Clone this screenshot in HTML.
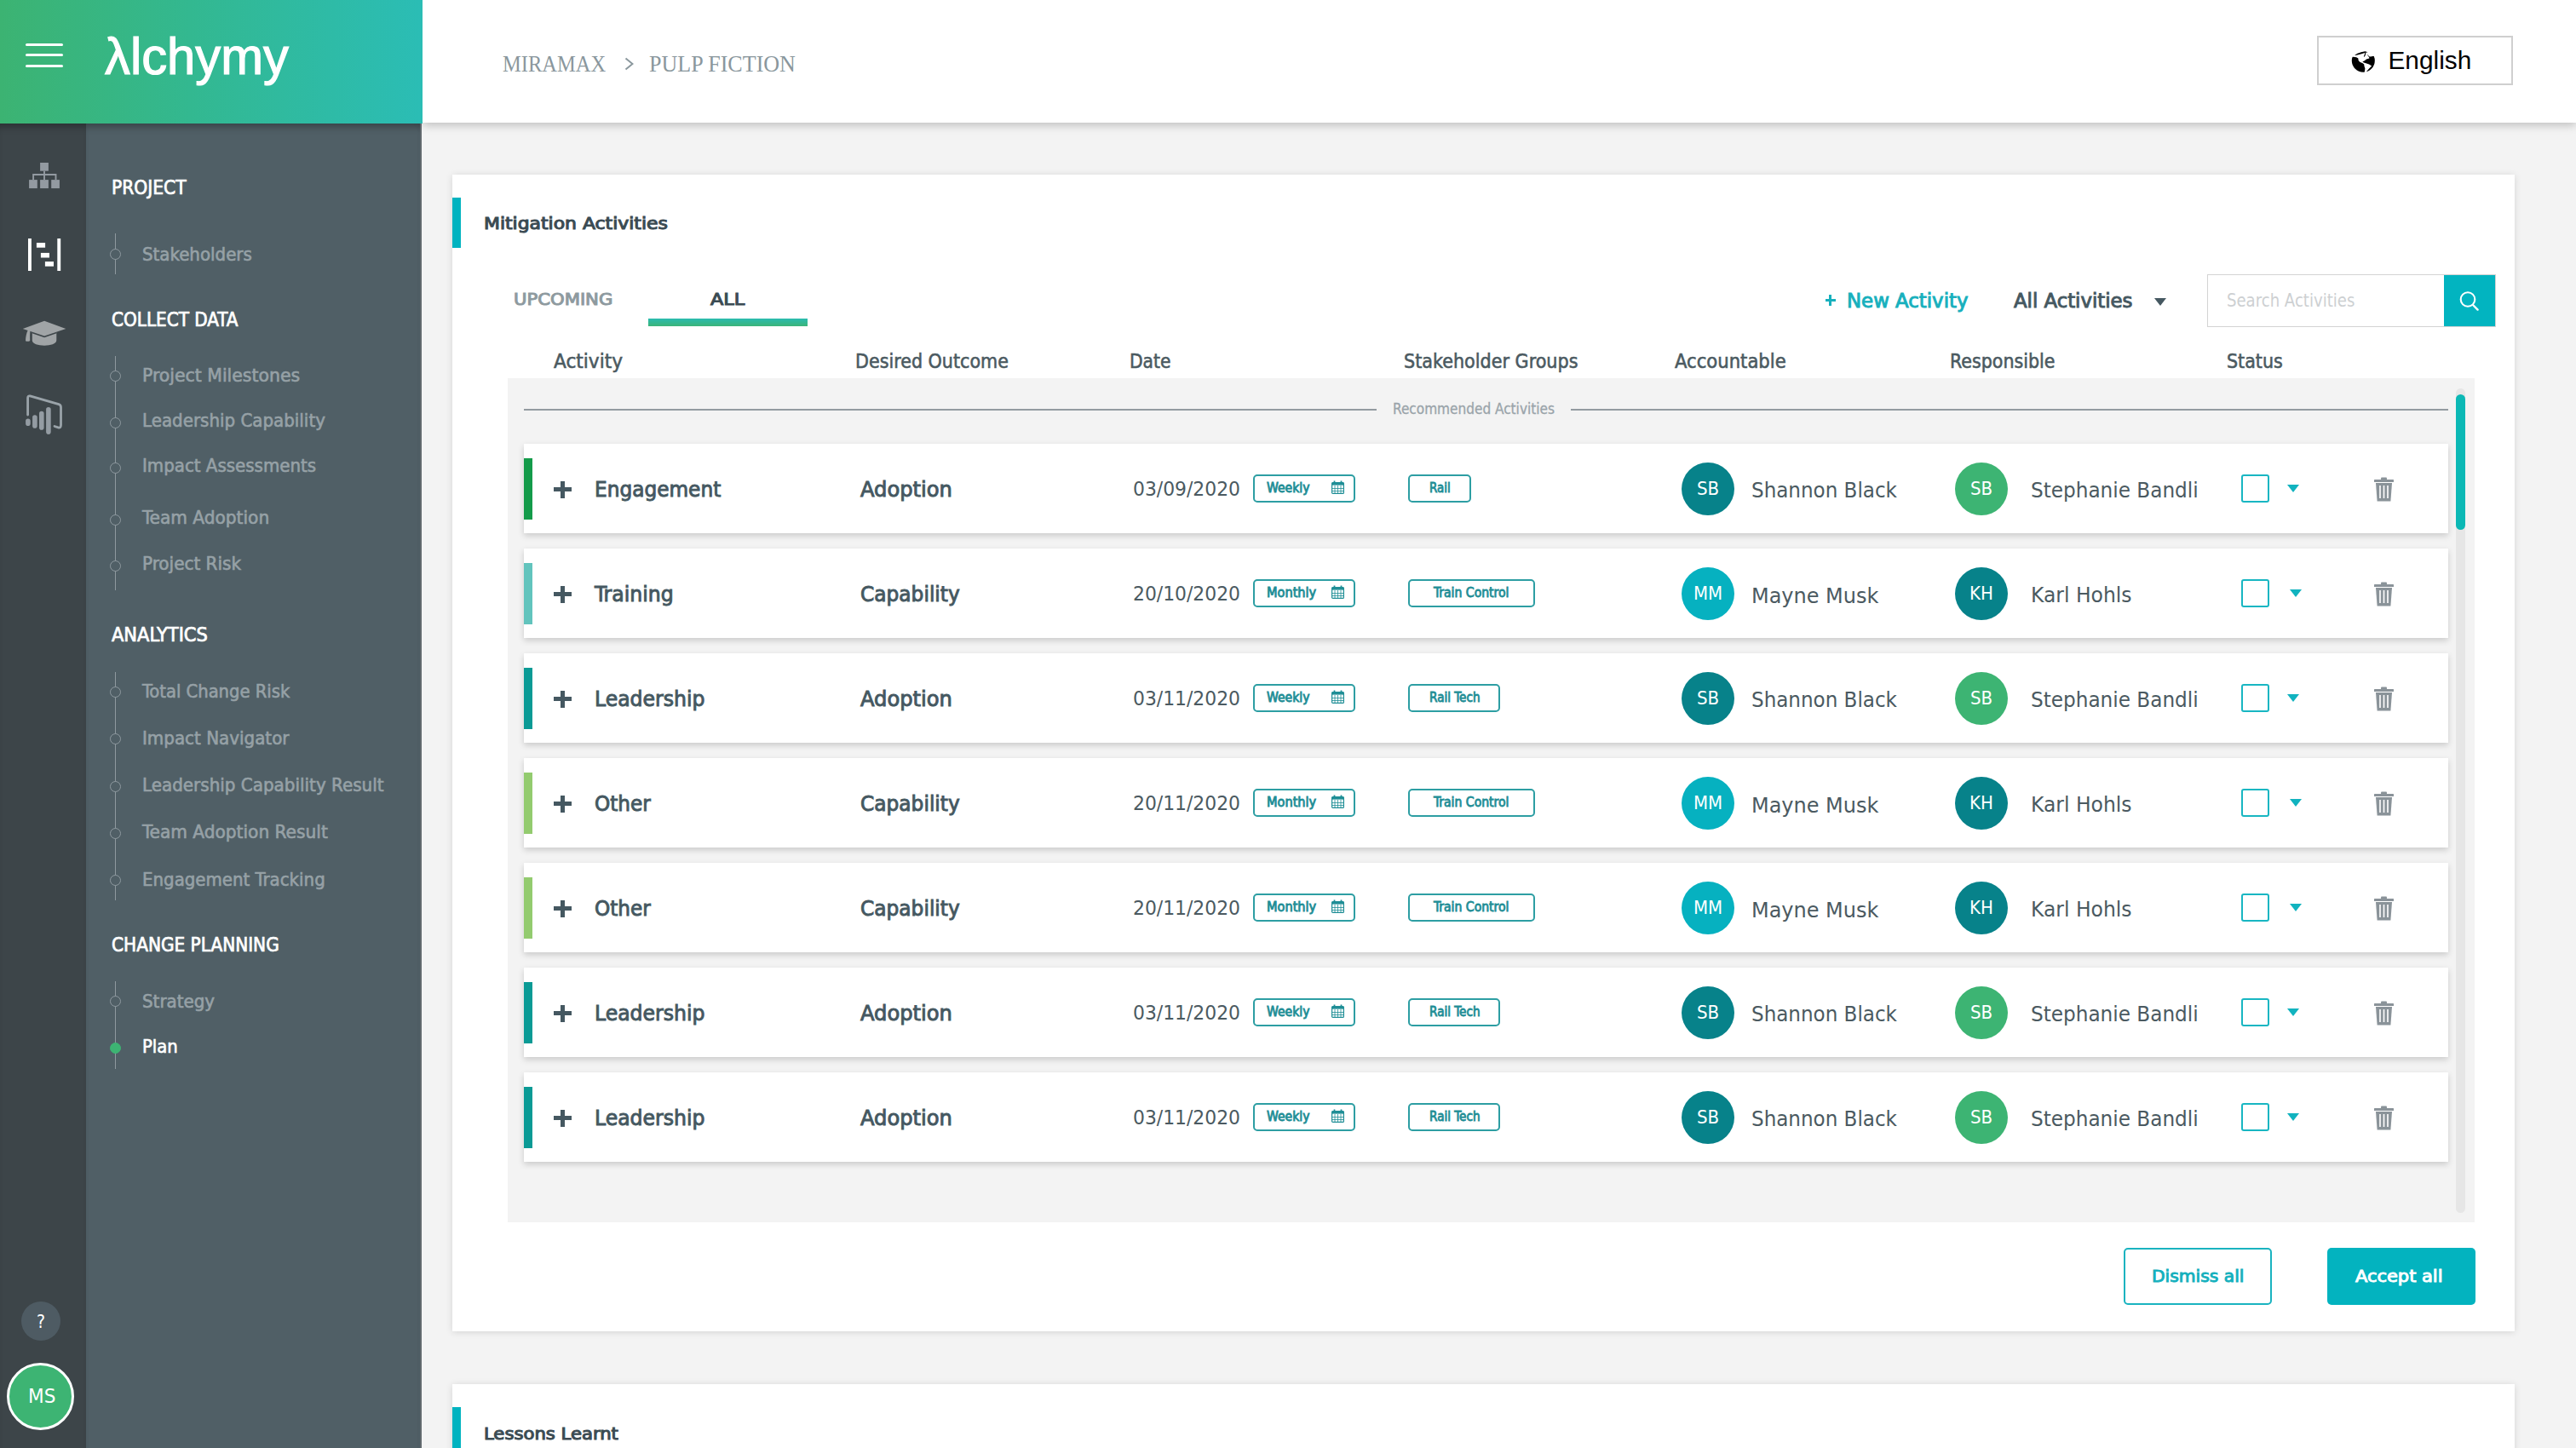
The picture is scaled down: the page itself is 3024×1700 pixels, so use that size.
<!DOCTYPE html>
<html><head><meta charset="utf-8"><title>Alchymy - Plan</title>
<style>
*{box-sizing:border-box;margin:0;padding:0}
html,body{width:3024px;height:1700px;overflow:hidden;background:#f3f3f3;font-family:"Liberation Sans",Arial,sans-serif;position:relative}
.a{position:absolute;white-space:nowrap;line-height:1}
#brand{position:absolute;left:0;top:0;width:496px;height:145px;background:linear-gradient(90deg,#3cb372 0%,#33b890 45%,#2bbdb5 100%);z-index:3}
#topbar{position:absolute;left:496px;top:0;width:2528px;height:144px;background:#fff;box-shadow:0 3px 10px rgba(0,0,0,.22);z-index:2}
#rail{position:absolute;left:0;top:145px;width:101px;height:1555px;background:#3d4549;z-index:1;box-shadow:inset 0 9px 8px -5px rgba(0,0,0,.3)}
#nav{position:absolute;left:101px;top:145px;width:394px;height:1555px;background:#505f66;z-index:1;border-right:2.3px solid #61696e;box-shadow:inset 0 9px 8px -5px rgba(0,0,0,.3)}
.burger{position:absolute;left:30px;width:44px;height:3.4px;border-radius:2px;background:#fff}
.logo{left:121px;top:40px;font-size:64px;color:#fff;font-weight:bold;letter-spacing:-1px}
.sec{left:131px;font-size:23px;color:#fff;font-weight:bold;letter-spacing:.3px}
.item{left:167px;font-size:24px;color:#8f9aa0;font-weight:bold}
.vline{position:absolute;z-index:5;left:134.5px;width:1.5px;background:#8e999f}
.dot{position:absolute;z-index:6;left:129px;width:13px;height:13px;border:1.6px solid #8e999f;border-radius:50%;background:#505f66}
.crumb{font-family:"Liberation Serif",serif;font-size:27px;color:#8a979d;top:62px;letter-spacing:.3px}
#lang{position:absolute;left:2720px;top:42px;width:230px;height:58px;border:2px solid #cfcfcf;background:#fff;z-index:3}
.card{position:absolute;left:531px;width:2421px;background:#fff;box-shadow:0 1px 8px rgba(0,0,0,.13)}
.accent{position:absolute;left:0;width:10px;background:#00b3c0}
.title{font-size:24px;font-weight:bold;color:#3b4b53}
.tab{font-size:24px;font-weight:bold;letter-spacing:.5px}
.th{font-size:23px;color:#4b5a61;top:413px}
#panel{position:absolute;left:596px;top:444px;width:2309px;height:991px;background:#f3f3f3}
.row{position:absolute;left:615px;width:2259px;height:105.5px;background:#fff;box-shadow:0 3px 7px rgba(0,0,0,.17)}
.bar{position:absolute;left:0;top:17px;width:10px;height:72px}
.plus{position:absolute;left:35px;top:44px;width:21px;height:20px}
.plus:before{content:"";position:absolute;left:0;top:7.75px;width:21px;height:4.5px;background:#455861}
.plus:after{content:"";position:absolute;left:8.25px;top:0;width:4.5px;height:20px;background:#455861}
.act{left:83px;top:41px;font-size:26px;color:#455861;font-weight:bold}
.out{left:395px;top:41px;font-size:26px;color:#455861;font-weight:bold}
.date{left:714px;top:42px;font-size:24px;color:#4b5a61}
.pill{position:absolute;top:36.2px;height:33.2px;border:2px solid #2d9ea3;border-radius:5px;font-size:16px;font-weight:bold;color:#1f8e96;text-align:center;line-height:29px;white-space:nowrap}
.freq{left:855.8px;width:120.6px}
.cal{position:absolute;left:90px;top:5.8px}
.grp{left:1038.4px}
.av{position:absolute;top:22px;width:62px;height:62px;border-radius:50%;color:#fff;font-size:22px;text-align:center;line-height:62px;font-family:'DejaVu Sans Condensed','DejaVu Sans',sans-serif}
.nm{top:42px;font-size:26px;color:#4b5a61}
.cb{position:absolute;left:2016px;top:36px;width:33px;height:33px;border:2.4px solid #18b6c2;border-radius:3px}
.tri{position:absolute;top:48px;width:0;height:0;border-left:7.5px solid transparent;border-right:7.5px solid transparent;border-top:9px solid #11b3bf}
.trash{position:absolute;left:2172px;top:39px}
.btn{position:absolute;top:1465px;width:174px;height:67px;border-radius:5px;font-size:24px;font-weight:bold;text-align:center;line-height:63px}

</style></head><body>
<div id="brand">
<div class="burger" style="top:50.5px"></div><div class="burger" style="top:63px"></div><div class="burger" style="top:75.5px"></div>
<div class="a " style="left:122.5px;top:36.0px;font-size:61px;transform:scaleX(0.9805);transform-origin:0 0;color:#fff;-webkit-text-stroke:1.2px #fff">λlchymy</div>
</div>
<div id="topbar"></div>
<div class="a " style="left:590.0px;top:60.5px;font-size:28px;font-family:'Liberation Serif',serif;transform:scaleX(0.875);transform-origin:0 0;color:#8a979d;z-index:4">MIRAMAX</div>
<svg class="a" style="left:733px;top:67px;z-index:4" width="11" height="16" viewBox="0 0 11 16"><path d="M1.5 1.5l8 6.5-8 6.5" fill="none" stroke="#8a979d" stroke-width="2"/></svg>
<div class="a " style="left:762.0px;top:60.5px;font-size:28px;font-family:'Liberation Serif',serif;transform:scaleX(0.93);transform-origin:0 0;color:#8a979d;z-index:4">PULP FICTION</div>
<div id="lang">
<svg style="position:absolute;left:38px;top:15px" width="29" height="27" viewBox="0 0 29 27"><defs><clipPath id="gc"><circle cx="14.3" cy="12.2" r="13.5"/></clipPath></defs><g clip-path="url(#gc)" fill="#000"><path d="M4.3 5.7L7.4 3.8L11.75 2.25L16.4 1.3L19.7 2.25L17 2.8L12.4 4.3L7.4 5.5L4.9 6.1Z"/><path d="M2.27 7.69L6.16 8.16L8.33 9.4L8.64 11.9L10.2 13.75L13.6 15.3L15.2 16.5L15.5 18.7L16.4 21.5L15.8 25.6L15.8 30L-5 30L-5 7.6Z"/><path d="M13.3 13.4L15.8 12.2L18 10.6L21.4 9.4L21.1 8.2L19.8 6.6L18.9 5.05L19.8 5.4L21.1 7.2L22.9 7.5L25.4 7.1L32 6L32 32L19.5 32L18.1 24.9L21.1 21.5L24.2 18.4L21.1 16.5L17.3 15.15L14.9 14.4Z"/><path d="M17 2.4L16.2 5.6L15.3 7.4" fill="none" stroke="#000" stroke-width="1.1"/></g></svg>
<div class="a " style="left:81.5px;top:12.3px;font-size:29.8px;color:#000">English</div>
</div>
<div id="rail"></div><div id="nav"></div>
<div class="a " style="left:131.0px;top:209.0px;font-size:22.4px;font-family:'DejaVu Sans Condensed','DejaVu Sans',sans-serif;transform:scaleX(1.0062);transform-origin:0 0;color:#fff;z-index:5;-webkit-text-stroke:0.7px #fff">PROJECT</div>
<div class="vline" style="top:274px;height:48px"></div>
<div class="dot" style="top:291.5px"></div>
<div class="a " style="left:167.0px;top:288.4px;font-size:22px;font-family:'DejaVu Sans Condensed','DejaVu Sans',sans-serif;transform:scaleX(1.0011);transform-origin:0 0;color:#96a1a6;z-index:5;-webkit-text-stroke:0.6px #96a1a6">Stakeholders</div>
<div class="a " style="left:131.0px;top:364.0px;font-size:22.4px;font-family:'DejaVu Sans Condensed','DejaVu Sans',sans-serif;transform:scaleX(0.9939);transform-origin:0 0;color:#fff;z-index:5;-webkit-text-stroke:0.7px #fff">COLLECT DATA</div>
<div class="vline" style="top:418px;height:275px"></div>
<div class="dot" style="top:434.9px"></div>
<div class="a " style="left:167.0px;top:430.1px;font-size:22px;font-family:'DejaVu Sans Condensed','DejaVu Sans',sans-serif;transform:scaleX(1.0319);transform-origin:0 0;color:#96a1a6;z-index:5;-webkit-text-stroke:0.6px #96a1a6">Project Milestones</div>
<div class="dot" style="top:489.8px"></div>
<div class="a " style="left:167.0px;top:483.4px;font-size:22px;font-family:'DejaVu Sans Condensed','DejaVu Sans',sans-serif;transform:scaleX(1.0032);transform-origin:0 0;color:#96a1a6;z-index:5;-webkit-text-stroke:0.6px #96a1a6">Leadership Capability</div>
<div class="dot" style="top:543.1px"></div>
<div class="a " style="left:167.0px;top:536.4px;font-size:22px;font-family:'DejaVu Sans Condensed','DejaVu Sans',sans-serif;transform:scaleX(1.0016);transform-origin:0 0;color:#96a1a6;z-index:5;-webkit-text-stroke:0.6px #96a1a6">Impact Assessments</div>
<div class="dot" style="top:604.4px"></div>
<div class="a " style="left:167.0px;top:597.4px;font-size:22px;font-family:'DejaVu Sans Condensed','DejaVu Sans',sans-serif;transform:scaleX(1.0183);transform-origin:0 0;color:#96a1a6;z-index:5;-webkit-text-stroke:0.6px #96a1a6">Team Adoption</div>
<div class="dot" style="top:657.6px"></div>
<div class="a " style="left:167.0px;top:650.7px;font-size:22px;font-family:'DejaVu Sans Condensed','DejaVu Sans',sans-serif;transform:scaleX(1.0093);transform-origin:0 0;color:#96a1a6;z-index:5;-webkit-text-stroke:0.6px #96a1a6">Project Risk</div>
<div class="a " style="left:131.0px;top:734.0px;font-size:22.4px;font-family:'DejaVu Sans Condensed','DejaVu Sans',sans-serif;transform:scaleX(1.0424);transform-origin:0 0;color:#fff;z-index:5;-webkit-text-stroke:0.7px #fff">ANALYTICS</div>
<div class="vline" style="top:789px;height:267.5px"></div>
<div class="dot" style="top:805.5px"></div>
<div class="a " style="left:167.0px;top:801.3px;font-size:22px;font-family:'DejaVu Sans Condensed','DejaVu Sans',sans-serif;transform:scaleX(0.989);transform-origin:0 0;color:#96a1a6;z-index:5;-webkit-text-stroke:0.6px #96a1a6">Total Change Risk</div>
<div class="dot" style="top:860.5px"></div>
<div class="a " style="left:167.0px;top:856.2px;font-size:22px;font-family:'DejaVu Sans Condensed','DejaVu Sans',sans-serif;transform:scaleX(1.0054);transform-origin:0 0;color:#96a1a6;z-index:5;-webkit-text-stroke:0.6px #96a1a6">Impact Navigator</div>
<div class="dot" style="top:916.5px"></div>
<div class="a " style="left:167.0px;top:911.4px;font-size:22px;font-family:'DejaVu Sans Condensed','DejaVu Sans',sans-serif;transform:scaleX(1.0069);transform-origin:0 0;color:#96a1a6;z-index:5;-webkit-text-stroke:0.6px #96a1a6">Leadership Capability Result</div>
<div class="dot" style="top:971.5px"></div>
<div class="a " style="left:167.0px;top:966.4px;font-size:22px;font-family:'DejaVu Sans Condensed','DejaVu Sans',sans-serif;transform:scaleX(1.0184);transform-origin:0 0;color:#96a1a6;z-index:5;-webkit-text-stroke:0.6px #96a1a6">Team Adoption Result</div>
<div class="dot" style="top:1026.5px"></div>
<div class="a " style="left:167.0px;top:1021.7px;font-size:22px;font-family:'DejaVu Sans Condensed','DejaVu Sans',sans-serif;transform:scaleX(1.0004);transform-origin:0 0;color:#96a1a6;z-index:5;-webkit-text-stroke:0.6px #96a1a6">Engagement Tracking</div>
<div class="a " style="left:131.0px;top:1098.0px;font-size:22.4px;font-family:'DejaVu Sans Condensed','DejaVu Sans',sans-serif;transform:scaleX(0.9976);transform-origin:0 0;color:#fff;z-index:5;-webkit-text-stroke:0.7px #fff">CHANGE PLANNING</div>
<div class="vline" style="top:1152px;height:103px"></div>
<div class="dot" style="top:1169.1px"></div>
<div class="a " style="left:167.0px;top:1164.8px;font-size:22px;font-family:'DejaVu Sans Condensed','DejaVu Sans',sans-serif;transform:scaleX(1.0035);transform-origin:0 0;color:#96a1a6;z-index:5;-webkit-text-stroke:0.6px #96a1a6">Strategy</div>
<div class="dot" style="top:1224.0px;background:#3db473;border-color:#3db473"></div>
<div class="a " style="left:167.0px;top:1218.1px;font-size:22px;font-family:'DejaVu Sans Condensed','DejaVu Sans',sans-serif;transform:scaleX(0.9927);transform-origin:0 0;color:#fff;z-index:5;-webkit-text-stroke:0.6px #fff">Plan</div>
<svg class="a" style="left:34px;top:191px;z-index:5" width="36" height="31" viewBox="0 0 36 31" fill="#939aa1"><rect x="13.1" y="0" width="9.8" height="9.7"/><rect x="0.1" y="20.1" width="9.7" height="10"/><rect x="13.1" y="20.1" width="9.8" height="10"/><rect x="26.2" y="20.1" width="9.7" height="10"/><path d="M18 9.7V20.1M5.1 20.1V14h26.4v6.1" fill="none" stroke="#939aa1" stroke-width="1.9"/></svg>
<svg class="a" style="left:33px;top:280px;z-index:5" width="39" height="38" viewBox="0 0 39 38" fill="#fff"><rect x="0" y="0" width="3.9" height="38"/><rect x="34.3" y="0" width="3.9" height="38"/><rect x="9.9" y="5" width="10.2" height="5.7"/><rect x="14.9" y="16.9" width="10.1" height="5.6"/><rect x="19.9" y="27.1" width="10.1" height="5.6"/></svg>
<svg class="a" style="left:26px;top:376px;z-index:5" width="52" height="31" viewBox="0 0 52 31"><path d="M11.8 14.2L26.1 19.6L40.3 14.2V23.5C40.3 27.6 33 29.7 26.1 29.7C19 29.7 11.8 27.6 11.8 23.5Z" fill="#a0a4a6"/><path d="M6.8 11.6L9.4 12.2C9.1 16 9.1 20 9.2 24C8 25.1 5.4 25.1 4 24.2C4.1 19.8 5 15 6.8 11.6Z" fill="#a0a4a6"/><path d="M11.8 14.6L26.1 19.4L40.3 14.6" fill="none" stroke="#3d4549" stroke-width="1.6"/><path d="M26.1 0.7L51.3 10.1L26.1 18.4L0.8 10.1Z" fill="#a0a4a6"/></svg>
<svg class="a" style="left:28px;top:460px;z-index:5" width="47" height="51" viewBox="0 0 47 51" fill="none" stroke-linecap="round"><path d="M4.6 27.1V7.3Q4.6 4.3 7.3 4.9L41 14.7Q43.5 15.5 43.5 18.2V39Q43.5 42.8 40.3 41.9L36 40.5" stroke="#9aa3a9" stroke-width="2.8" stroke-linejoin="round"/><path d="M4.9 34.3V37.2M12.9 30.1V39.9M20.8 25.6V41.9M28.9 20.8V47.1" stroke="#949ca3" stroke-width="5.6"/></svg>
<div class="a" style="left:24.5px;top:1527.5px;width:46px;height:46px;border-radius:50%;background:#4e5b63;z-index:5"></div>
<div class="a " style="left:43.0px;top:1542.2px;font-size:21px;font-family:'DejaVu Sans Condensed','DejaVu Sans',sans-serif;color:#fff;z-index:6">?</div>
<div class="a" style="left:8px;top:1599.7px;width:79px;height:79px;border-radius:50%;background:#3db473;border:3.5px solid #fff;z-index:5"></div>
<div class="a " style="left:32.5px;top:1627.5px;font-size:22.6px;font-family:'DejaVu Sans Condensed','DejaVu Sans',sans-serif;transform:scaleX(1.0638);transform-origin:0 0;color:#fff;z-index:6">MS</div>
<div class="card" style="top:205px;height:1358px"><div class="accent" style="top:27px;height:59px"></div></div>
<div class="a " style="left:568.0px;top:253.0px;font-size:19.9px;font-family:'DejaVu Sans Condensed','DejaVu Sans',sans-serif;transform:scaleX(1.2248);transform-origin:0 0;color:#3b4b53;-webkit-text-stroke:1px #3b4b53">Mitigation Activities</div>
<div class="a " style="left:603.0px;top:341.1px;font-size:20.2px;font-family:'DejaVu Sans Condensed','DejaVu Sans',sans-serif;transform:scaleX(1.1643);transform-origin:0 0;color:#8e9a9f;-webkit-text-stroke:1px #8e9a9f">UPCOMING</div>
<div class="a " style="left:834.0px;top:341.1px;font-size:20.2px;font-family:'DejaVu Sans Condensed','DejaVu Sans',sans-serif;transform:scaleX(1.2337);transform-origin:0 0;color:#3b4b53;-webkit-text-stroke:1px #3b4b53">ALL</div>
<div class="a" style="left:760.5px;top:374px;width:187px;height:8.5px;background:linear-gradient(180deg,#2abcb0,#3cb478)"></div>
<div class="a" style="left:2142.5px;top:351px;width:12.5px;height:3.2px;background:#17b0bd"></div><div class="a" style="left:2147.2px;top:346.3px;width:3.2px;height:12.5px;background:#17b0bd"></div>
<div class="a " style="left:2168.0px;top:342.0px;font-size:23.6px;font-family:'DejaVu Sans Condensed','DejaVu Sans',sans-serif;transform:scaleX(1.0763);transform-origin:0 0;color:#17b0bd;-webkit-text-stroke:0.9px #17b0bd">New Activity</div>
<div class="a " style="left:2364.0px;top:342.0px;font-size:23.6px;font-family:'DejaVu Sans Condensed','DejaVu Sans',sans-serif;transform:scaleX(1.0742);transform-origin:0 0;color:#455861;-webkit-text-stroke:0.9px #455861">All Activities</div>
<div class="a" style="left:2529px;top:350px;width:0;height:0;border-left:7px solid transparent;border-right:7px solid transparent;border-top:9px solid #455861"></div>
<div class="a" style="left:2591px;top:322px;width:339px;height:61.5px;border:1.5px solid #d3d3d3;background:#fff"></div>
<div class="a " style="left:2614.0px;top:342.6px;font-size:20.6px;font-family:'DejaVu Sans Condensed','DejaVu Sans',sans-serif;transform:scaleX(0.9765);transform-origin:0 0;color:#cdd0d2">Search Activities</div>
<div class="a" style="left:2869px;top:323.2px;width:59.6px;height:60.2px;background:#02b4c0"></div>
<svg class="a" style="left:2886px;top:340px" width="26" height="26" viewBox="0 0 26 26"><circle cx="11" cy="11.5" r="8.3" fill="none" stroke="#fff" stroke-width="2.1"/><path d="M17 18l5.6 5.6" stroke="#fff" stroke-width="2.4" stroke-linecap="round"/></svg>
<div class="a " style="left:650.0px;top:412.3px;font-size:23.3px;font-family:'DejaVu Sans Condensed','DejaVu Sans',sans-serif;transform:scaleX(1.0341);transform-origin:0 0;color:#4b5a61;-webkit-text-stroke:0.55px #4b5a61">Activity</div>
<div class="a " style="left:1004.0px;top:412.3px;font-size:23.3px;font-family:'DejaVu Sans Condensed','DejaVu Sans',sans-serif;transform:scaleX(0.9867);transform-origin:0 0;color:#4b5a61;-webkit-text-stroke:0.55px #4b5a61">Desired Outcome</div>
<div class="a " style="left:1326.0px;top:412.3px;font-size:23.3px;font-family:'DejaVu Sans Condensed','DejaVu Sans',sans-serif;transform:scaleX(0.9679);transform-origin:0 0;color:#4b5a61;-webkit-text-stroke:0.55px #4b5a61">Date</div>
<div class="a " style="left:1647.5px;top:412.3px;font-size:23.3px;font-family:'DejaVu Sans Condensed','DejaVu Sans',sans-serif;transform:scaleX(0.9894);transform-origin:0 0;color:#4b5a61;-webkit-text-stroke:0.55px #4b5a61">Stakeholder Groups</div>
<div class="a " style="left:1966.0px;top:412.3px;font-size:23.3px;font-family:'DejaVu Sans Condensed','DejaVu Sans',sans-serif;transform:scaleX(1.0095);transform-origin:0 0;color:#4b5a61;-webkit-text-stroke:0.55px #4b5a61">Accountable</div>
<div class="a " style="left:2289.0px;top:412.3px;font-size:23.3px;font-family:'DejaVu Sans Condensed','DejaVu Sans',sans-serif;transform:scaleX(0.9837);transform-origin:0 0;color:#4b5a61;-webkit-text-stroke:0.55px #4b5a61">Responsible</div>
<div class="a " style="left:2613.5px;top:412.3px;font-size:23.3px;font-family:'DejaVu Sans Condensed','DejaVu Sans',sans-serif;transform:scaleX(0.9851);transform-origin:0 0;color:#4b5a61;-webkit-text-stroke:0.55px #4b5a61">Status</div>
<div id="panel"></div>
<div class="a" style="left:615px;top:480px;width:1001px;height:2px;background:#939ba0"></div>
<div class="a" style="left:1844px;top:480px;width:1030px;height:2px;background:#939ba0"></div>
<div class="a " style="left:1635.0px;top:471.7px;font-size:17.1px;font-family:'DejaVu Sans Condensed','DejaVu Sans',sans-serif;transform:scaleX(0.9974);transform-origin:0 0;color:#9aa4aa;-webkit-text-stroke:0.3px #9aa4aa">Recommended Activities</div>
<div class="a" style="left:2883px;top:456px;width:11px;height:968px;border-radius:6px;background:#e6e6e6"></div>
<div class="a" style="left:2883px;top:463px;width:11px;height:159px;border-radius:6px;background:#0bb8b5"></div>
<div class="row" style="top:520.5px">
<div class="bar" style="background:#149b4a"></div><div class="plus"></div>
<div class="a " style="left:83.0px;top:41.8px;font-size:25.4px;font-family:'DejaVu Sans Condensed','DejaVu Sans',sans-serif;transform:scaleX(1.0173);transform-origin:0 0;color:#455861;-webkit-text-stroke:0.9px #455861">Engagement</div>
<div class="a " style="left:395.0px;top:41.8px;font-size:25.4px;font-family:'DejaVu Sans Condensed','DejaVu Sans',sans-serif;transform:scaleX(1.0594);transform-origin:0 0;color:#455861;-webkit-text-stroke:0.9px #455861">Adoption</div>
<div class="a " style="left:714.5px;top:42.0px;font-size:23.6px;font-family:'DejaVu Sans Condensed','DejaVu Sans',sans-serif;transform:scaleX(1.0298);transform-origin:0 0;color:#4b5a61">03/09/2020</div>
<div class="pill freq"><div class="a " style="left:14.2px;top:6.9px;font-size:15px;font-family:'DejaVu Sans Condensed','DejaVu Sans',sans-serif;transform:scaleX(1.0365);transform-origin:0 0;font-weight:normal;-webkit-text-stroke:0.8px #1f8e96">Weekly</div>
<svg class="cal" width="15" height="16" viewBox="0 0 15 16"><rect x="0.6" y="2.6" width="13.8" height="12.8" rx="1" fill="none" stroke="#1f8e96" stroke-width="1.2"/><rect x="0.6" y="2.6" width="13.8" height="3" fill="#1f8e96"/><path d="M3.5 0.5v3M11.5 0.5v3" stroke="#1f8e96" stroke-width="1.8"/><path d="M4 6v9M7.5 6v9M11 6v9M1 9.5h13M1 12.5h13" stroke="#1f8e96" stroke-width="0.8"/></svg></div><div class="pill grp" style="width:73.5px"><div class="a " style="left:22.4px;top:6.9px;font-size:15px;font-family:'DejaVu Sans Condensed','DejaVu Sans',sans-serif;transform:scaleX(0.9953);transform-origin:0 0;font-weight:normal;-webkit-text-stroke:0.8px #1f8e96">Rail</div>
</div>
<div class="av" style="left:1359px;background:#07828a">SB</div><div class="a " style="left:1441.0px;top:42.0px;font-size:25.4px;font-family:'DejaVu Sans Condensed','DejaVu Sans',sans-serif;transform:scaleX(1.0087);transform-origin:0 0;color:#4b5a61">Shannon Black</div>
<div class="av" style="left:1680px;background:#3db473">SB</div><div class="a " style="left:1769.0px;top:42.0px;font-size:25.4px;font-family:'DejaVu Sans Condensed','DejaVu Sans',sans-serif;transform:scaleX(1.0136);transform-origin:0 0;color:#4b5a61">Stephanie Bandli</div>
<div class="cb"></div><div class="tri" style="left:2069.5px"></div><svg class="trash" width="23" height="29" viewBox="0 0 23 29"><rect x="0" y="3" width="23" height="3" rx="0.5" fill="#8a9399"/><rect x="8" y="0.5" width="7" height="3" rx="1" fill="#8a9399"/><path d="M2 7h19l-1.6 21.5H3.6z" fill="#8a9399"/><path d="M7 10v15M11.5 10v15M16 10v15" stroke="#fff" stroke-width="1.6"/></svg>
</div>
<div class="row" style="top:643.5px">
<div class="bar" style="background:#62c4bd"></div><div class="plus"></div>
<div class="a " style="left:83.0px;top:41.8px;font-size:25.4px;font-family:'DejaVu Sans Condensed','DejaVu Sans',sans-serif;transform:scaleX(1.0335);transform-origin:0 0;color:#455861;-webkit-text-stroke:0.9px #455861">Training</div>
<div class="a " style="left:395.0px;top:41.8px;font-size:25.4px;font-family:'DejaVu Sans Condensed','DejaVu Sans',sans-serif;transform:scaleX(1.02);transform-origin:0 0;color:#455861;-webkit-text-stroke:0.9px #455861">Capability</div>
<div class="a " style="left:714.5px;top:42.0px;font-size:23.6px;font-family:'DejaVu Sans Condensed','DejaVu Sans',sans-serif;transform:scaleX(1.0298);transform-origin:0 0;color:#4b5a61">20/10/2020</div>
<div class="pill freq"><div class="a " style="left:14.2px;top:6.9px;font-size:15px;font-family:'DejaVu Sans Condensed','DejaVu Sans',sans-serif;transform:scaleX(1.0771);transform-origin:0 0;font-weight:normal;-webkit-text-stroke:0.8px #1f8e96">Monthly</div>
<svg class="cal" width="15" height="16" viewBox="0 0 15 16"><rect x="0.6" y="2.6" width="13.8" height="12.8" rx="1" fill="none" stroke="#1f8e96" stroke-width="1.2"/><rect x="0.6" y="2.6" width="13.8" height="3" fill="#1f8e96"/><path d="M3.5 0.5v3M11.5 0.5v3" stroke="#1f8e96" stroke-width="1.8"/><path d="M4 6v9M7.5 6v9M11 6v9M1 9.5h13M1 12.5h13" stroke="#1f8e96" stroke-width="0.8"/></svg></div><div class="pill grp" style="width:148.5px"><div class="a " style="left:28.0px;top:6.9px;font-size:15px;font-family:'DejaVu Sans Condensed','DejaVu Sans',sans-serif;transform:scaleX(1.039);transform-origin:0 0;font-weight:normal;-webkit-text-stroke:0.8px #1f8e96">Train Control</div>
</div>
<div class="av" style="left:1359px;background:#06b1c0">MM</div><div class="a " style="left:1441.0px;top:43.5px;font-size:25.4px;font-family:'DejaVu Sans Condensed','DejaVu Sans',sans-serif;transform:scaleX(1.0492);transform-origin:0 0;color:#4b5a61">Mayne Musk</div>
<div class="av" style="left:1680px;background:#07828a">KH</div><div class="a " style="left:1769.0px;top:42.0px;font-size:25.4px;font-family:'DejaVu Sans Condensed','DejaVu Sans',sans-serif;transform:scaleX(1.0273);transform-origin:0 0;color:#4b5a61">Karl Hohls</div>
<div class="cb"></div><div class="tri" style="left:2073px"></div><svg class="trash" width="23" height="29" viewBox="0 0 23 29"><rect x="0" y="3" width="23" height="3" rx="0.5" fill="#8a9399"/><rect x="8" y="0.5" width="7" height="3" rx="1" fill="#8a9399"/><path d="M2 7h19l-1.6 21.5H3.6z" fill="#8a9399"/><path d="M7 10v15M11.5 10v15M16 10v15" stroke="#fff" stroke-width="1.6"/></svg>
</div>
<div class="row" style="top:766.5px">
<div class="bar" style="background:#0a9a95"></div><div class="plus"></div>
<div class="a " style="left:83.0px;top:41.8px;font-size:25.4px;font-family:'DejaVu Sans Condensed','DejaVu Sans',sans-serif;transform:scaleX(1.0321);transform-origin:0 0;color:#455861;-webkit-text-stroke:0.9px #455861">Leadership</div>
<div class="a " style="left:395.0px;top:41.8px;font-size:25.4px;font-family:'DejaVu Sans Condensed','DejaVu Sans',sans-serif;transform:scaleX(1.0594);transform-origin:0 0;color:#455861;-webkit-text-stroke:0.9px #455861">Adoption</div>
<div class="a " style="left:714.5px;top:42.0px;font-size:23.6px;font-family:'DejaVu Sans Condensed','DejaVu Sans',sans-serif;transform:scaleX(1.0298);transform-origin:0 0;color:#4b5a61">03/11/2020</div>
<div class="pill freq"><div class="a " style="left:14.2px;top:6.9px;font-size:15px;font-family:'DejaVu Sans Condensed','DejaVu Sans',sans-serif;transform:scaleX(1.0365);transform-origin:0 0;font-weight:normal;-webkit-text-stroke:0.8px #1f8e96">Weekly</div>
<svg class="cal" width="15" height="16" viewBox="0 0 15 16"><rect x="0.6" y="2.6" width="13.8" height="12.8" rx="1" fill="none" stroke="#1f8e96" stroke-width="1.2"/><rect x="0.6" y="2.6" width="13.8" height="3" fill="#1f8e96"/><path d="M3.5 0.5v3M11.5 0.5v3" stroke="#1f8e96" stroke-width="1.8"/><path d="M4 6v9M7.5 6v9M11 6v9M1 9.5h13M1 12.5h13" stroke="#1f8e96" stroke-width="0.8"/></svg></div><div class="pill grp" style="width:108px"><div class="a " style="left:22.2px;top:6.9px;font-size:15px;font-family:'DejaVu Sans Condensed','DejaVu Sans',sans-serif;transform:scaleX(1.0089);transform-origin:0 0;font-weight:normal;-webkit-text-stroke:0.8px #1f8e96">Rail Tech</div>
</div>
<div class="av" style="left:1359px;background:#07828a">SB</div><div class="a " style="left:1441.0px;top:42.0px;font-size:25.4px;font-family:'DejaVu Sans Condensed','DejaVu Sans',sans-serif;transform:scaleX(1.0087);transform-origin:0 0;color:#4b5a61">Shannon Black</div>
<div class="av" style="left:1680px;background:#3db473">SB</div><div class="a " style="left:1769.0px;top:42.0px;font-size:25.4px;font-family:'DejaVu Sans Condensed','DejaVu Sans',sans-serif;transform:scaleX(1.0136);transform-origin:0 0;color:#4b5a61">Stephanie Bandli</div>
<div class="cb"></div><div class="tri" style="left:2069.5px"></div><svg class="trash" width="23" height="29" viewBox="0 0 23 29"><rect x="0" y="3" width="23" height="3" rx="0.5" fill="#8a9399"/><rect x="8" y="0.5" width="7" height="3" rx="1" fill="#8a9399"/><path d="M2 7h19l-1.6 21.5H3.6z" fill="#8a9399"/><path d="M7 10v15M11.5 10v15M16 10v15" stroke="#fff" stroke-width="1.6"/></svg>
</div>
<div class="row" style="top:889.5px">
<div class="bar" style="background:#93cb6f"></div><div class="plus"></div>
<div class="a " style="left:83.0px;top:41.8px;font-size:25.4px;font-family:'DejaVu Sans Condensed','DejaVu Sans',sans-serif;transform:scaleX(1.0142);transform-origin:0 0;color:#455861;-webkit-text-stroke:0.9px #455861">Other</div>
<div class="a " style="left:395.0px;top:41.8px;font-size:25.4px;font-family:'DejaVu Sans Condensed','DejaVu Sans',sans-serif;transform:scaleX(1.02);transform-origin:0 0;color:#455861;-webkit-text-stroke:0.9px #455861">Capability</div>
<div class="a " style="left:714.5px;top:42.0px;font-size:23.6px;font-family:'DejaVu Sans Condensed','DejaVu Sans',sans-serif;transform:scaleX(1.0298);transform-origin:0 0;color:#4b5a61">20/11/2020</div>
<div class="pill freq"><div class="a " style="left:14.2px;top:6.9px;font-size:15px;font-family:'DejaVu Sans Condensed','DejaVu Sans',sans-serif;transform:scaleX(1.0771);transform-origin:0 0;font-weight:normal;-webkit-text-stroke:0.8px #1f8e96">Monthly</div>
<svg class="cal" width="15" height="16" viewBox="0 0 15 16"><rect x="0.6" y="2.6" width="13.8" height="12.8" rx="1" fill="none" stroke="#1f8e96" stroke-width="1.2"/><rect x="0.6" y="2.6" width="13.8" height="3" fill="#1f8e96"/><path d="M3.5 0.5v3M11.5 0.5v3" stroke="#1f8e96" stroke-width="1.8"/><path d="M4 6v9M7.5 6v9M11 6v9M1 9.5h13M1 12.5h13" stroke="#1f8e96" stroke-width="0.8"/></svg></div><div class="pill grp" style="width:148.5px"><div class="a " style="left:28.0px;top:6.9px;font-size:15px;font-family:'DejaVu Sans Condensed','DejaVu Sans',sans-serif;transform:scaleX(1.039);transform-origin:0 0;font-weight:normal;-webkit-text-stroke:0.8px #1f8e96">Train Control</div>
</div>
<div class="av" style="left:1359px;background:#06b1c0">MM</div><div class="a " style="left:1441.0px;top:43.5px;font-size:25.4px;font-family:'DejaVu Sans Condensed','DejaVu Sans',sans-serif;transform:scaleX(1.0492);transform-origin:0 0;color:#4b5a61">Mayne Musk</div>
<div class="av" style="left:1680px;background:#07828a">KH</div><div class="a " style="left:1769.0px;top:42.0px;font-size:25.4px;font-family:'DejaVu Sans Condensed','DejaVu Sans',sans-serif;transform:scaleX(1.0273);transform-origin:0 0;color:#4b5a61">Karl Hohls</div>
<div class="cb"></div><div class="tri" style="left:2073px"></div><svg class="trash" width="23" height="29" viewBox="0 0 23 29"><rect x="0" y="3" width="23" height="3" rx="0.5" fill="#8a9399"/><rect x="8" y="0.5" width="7" height="3" rx="1" fill="#8a9399"/><path d="M2 7h19l-1.6 21.5H3.6z" fill="#8a9399"/><path d="M7 10v15M11.5 10v15M16 10v15" stroke="#fff" stroke-width="1.6"/></svg>
</div>
<div class="row" style="top:1012.5px">
<div class="bar" style="background:#93cb6f"></div><div class="plus"></div>
<div class="a " style="left:83.0px;top:41.8px;font-size:25.4px;font-family:'DejaVu Sans Condensed','DejaVu Sans',sans-serif;transform:scaleX(1.0142);transform-origin:0 0;color:#455861;-webkit-text-stroke:0.9px #455861">Other</div>
<div class="a " style="left:395.0px;top:41.8px;font-size:25.4px;font-family:'DejaVu Sans Condensed','DejaVu Sans',sans-serif;transform:scaleX(1.02);transform-origin:0 0;color:#455861;-webkit-text-stroke:0.9px #455861">Capability</div>
<div class="a " style="left:714.5px;top:42.0px;font-size:23.6px;font-family:'DejaVu Sans Condensed','DejaVu Sans',sans-serif;transform:scaleX(1.0298);transform-origin:0 0;color:#4b5a61">20/11/2020</div>
<div class="pill freq"><div class="a " style="left:14.2px;top:6.9px;font-size:15px;font-family:'DejaVu Sans Condensed','DejaVu Sans',sans-serif;transform:scaleX(1.0771);transform-origin:0 0;font-weight:normal;-webkit-text-stroke:0.8px #1f8e96">Monthly</div>
<svg class="cal" width="15" height="16" viewBox="0 0 15 16"><rect x="0.6" y="2.6" width="13.8" height="12.8" rx="1" fill="none" stroke="#1f8e96" stroke-width="1.2"/><rect x="0.6" y="2.6" width="13.8" height="3" fill="#1f8e96"/><path d="M3.5 0.5v3M11.5 0.5v3" stroke="#1f8e96" stroke-width="1.8"/><path d="M4 6v9M7.5 6v9M11 6v9M1 9.5h13M1 12.5h13" stroke="#1f8e96" stroke-width="0.8"/></svg></div><div class="pill grp" style="width:148.5px"><div class="a " style="left:28.0px;top:6.9px;font-size:15px;font-family:'DejaVu Sans Condensed','DejaVu Sans',sans-serif;transform:scaleX(1.039);transform-origin:0 0;font-weight:normal;-webkit-text-stroke:0.8px #1f8e96">Train Control</div>
</div>
<div class="av" style="left:1359px;background:#06b1c0">MM</div><div class="a " style="left:1441.0px;top:43.5px;font-size:25.4px;font-family:'DejaVu Sans Condensed','DejaVu Sans',sans-serif;transform:scaleX(1.0492);transform-origin:0 0;color:#4b5a61">Mayne Musk</div>
<div class="av" style="left:1680px;background:#07828a">KH</div><div class="a " style="left:1769.0px;top:42.0px;font-size:25.4px;font-family:'DejaVu Sans Condensed','DejaVu Sans',sans-serif;transform:scaleX(1.0273);transform-origin:0 0;color:#4b5a61">Karl Hohls</div>
<div class="cb"></div><div class="tri" style="left:2073px"></div><svg class="trash" width="23" height="29" viewBox="0 0 23 29"><rect x="0" y="3" width="23" height="3" rx="0.5" fill="#8a9399"/><rect x="8" y="0.5" width="7" height="3" rx="1" fill="#8a9399"/><path d="M2 7h19l-1.6 21.5H3.6z" fill="#8a9399"/><path d="M7 10v15M11.5 10v15M16 10v15" stroke="#fff" stroke-width="1.6"/></svg>
</div>
<div class="row" style="top:1135.5px">
<div class="bar" style="background:#0a9a95"></div><div class="plus"></div>
<div class="a " style="left:83.0px;top:41.8px;font-size:25.4px;font-family:'DejaVu Sans Condensed','DejaVu Sans',sans-serif;transform:scaleX(1.0321);transform-origin:0 0;color:#455861;-webkit-text-stroke:0.9px #455861">Leadership</div>
<div class="a " style="left:395.0px;top:41.8px;font-size:25.4px;font-family:'DejaVu Sans Condensed','DejaVu Sans',sans-serif;transform:scaleX(1.0594);transform-origin:0 0;color:#455861;-webkit-text-stroke:0.9px #455861">Adoption</div>
<div class="a " style="left:714.5px;top:42.0px;font-size:23.6px;font-family:'DejaVu Sans Condensed','DejaVu Sans',sans-serif;transform:scaleX(1.0298);transform-origin:0 0;color:#4b5a61">03/11/2020</div>
<div class="pill freq"><div class="a " style="left:14.2px;top:6.9px;font-size:15px;font-family:'DejaVu Sans Condensed','DejaVu Sans',sans-serif;transform:scaleX(1.0365);transform-origin:0 0;font-weight:normal;-webkit-text-stroke:0.8px #1f8e96">Weekly</div>
<svg class="cal" width="15" height="16" viewBox="0 0 15 16"><rect x="0.6" y="2.6" width="13.8" height="12.8" rx="1" fill="none" stroke="#1f8e96" stroke-width="1.2"/><rect x="0.6" y="2.6" width="13.8" height="3" fill="#1f8e96"/><path d="M3.5 0.5v3M11.5 0.5v3" stroke="#1f8e96" stroke-width="1.8"/><path d="M4 6v9M7.5 6v9M11 6v9M1 9.5h13M1 12.5h13" stroke="#1f8e96" stroke-width="0.8"/></svg></div><div class="pill grp" style="width:108px"><div class="a " style="left:22.2px;top:6.9px;font-size:15px;font-family:'DejaVu Sans Condensed','DejaVu Sans',sans-serif;transform:scaleX(1.0089);transform-origin:0 0;font-weight:normal;-webkit-text-stroke:0.8px #1f8e96">Rail Tech</div>
</div>
<div class="av" style="left:1359px;background:#07828a">SB</div><div class="a " style="left:1441.0px;top:42.0px;font-size:25.4px;font-family:'DejaVu Sans Condensed','DejaVu Sans',sans-serif;transform:scaleX(1.0087);transform-origin:0 0;color:#4b5a61">Shannon Black</div>
<div class="av" style="left:1680px;background:#3db473">SB</div><div class="a " style="left:1769.0px;top:42.0px;font-size:25.4px;font-family:'DejaVu Sans Condensed','DejaVu Sans',sans-serif;transform:scaleX(1.0136);transform-origin:0 0;color:#4b5a61">Stephanie Bandli</div>
<div class="cb"></div><div class="tri" style="left:2069.5px"></div><svg class="trash" width="23" height="29" viewBox="0 0 23 29"><rect x="0" y="3" width="23" height="3" rx="0.5" fill="#8a9399"/><rect x="8" y="0.5" width="7" height="3" rx="1" fill="#8a9399"/><path d="M2 7h19l-1.6 21.5H3.6z" fill="#8a9399"/><path d="M7 10v15M11.5 10v15M16 10v15" stroke="#fff" stroke-width="1.6"/></svg>
</div>
<div class="row" style="top:1258.5px">
<div class="bar" style="background:#0a9a95"></div><div class="plus"></div>
<div class="a " style="left:83.0px;top:41.8px;font-size:25.4px;font-family:'DejaVu Sans Condensed','DejaVu Sans',sans-serif;transform:scaleX(1.0321);transform-origin:0 0;color:#455861;-webkit-text-stroke:0.9px #455861">Leadership</div>
<div class="a " style="left:395.0px;top:41.8px;font-size:25.4px;font-family:'DejaVu Sans Condensed','DejaVu Sans',sans-serif;transform:scaleX(1.0594);transform-origin:0 0;color:#455861;-webkit-text-stroke:0.9px #455861">Adoption</div>
<div class="a " style="left:714.5px;top:42.0px;font-size:23.6px;font-family:'DejaVu Sans Condensed','DejaVu Sans',sans-serif;transform:scaleX(1.0298);transform-origin:0 0;color:#4b5a61">03/11/2020</div>
<div class="pill freq"><div class="a " style="left:14.2px;top:6.9px;font-size:15px;font-family:'DejaVu Sans Condensed','DejaVu Sans',sans-serif;transform:scaleX(1.0365);transform-origin:0 0;font-weight:normal;-webkit-text-stroke:0.8px #1f8e96">Weekly</div>
<svg class="cal" width="15" height="16" viewBox="0 0 15 16"><rect x="0.6" y="2.6" width="13.8" height="12.8" rx="1" fill="none" stroke="#1f8e96" stroke-width="1.2"/><rect x="0.6" y="2.6" width="13.8" height="3" fill="#1f8e96"/><path d="M3.5 0.5v3M11.5 0.5v3" stroke="#1f8e96" stroke-width="1.8"/><path d="M4 6v9M7.5 6v9M11 6v9M1 9.5h13M1 12.5h13" stroke="#1f8e96" stroke-width="0.8"/></svg></div><div class="pill grp" style="width:108px"><div class="a " style="left:22.2px;top:6.9px;font-size:15px;font-family:'DejaVu Sans Condensed','DejaVu Sans',sans-serif;transform:scaleX(1.0089);transform-origin:0 0;font-weight:normal;-webkit-text-stroke:0.8px #1f8e96">Rail Tech</div>
</div>
<div class="av" style="left:1359px;background:#07828a">SB</div><div class="a " style="left:1441.0px;top:42.0px;font-size:25.4px;font-family:'DejaVu Sans Condensed','DejaVu Sans',sans-serif;transform:scaleX(1.0087);transform-origin:0 0;color:#4b5a61">Shannon Black</div>
<div class="av" style="left:1680px;background:#3db473">SB</div><div class="a " style="left:1769.0px;top:42.0px;font-size:25.4px;font-family:'DejaVu Sans Condensed','DejaVu Sans',sans-serif;transform:scaleX(1.0136);transform-origin:0 0;color:#4b5a61">Stephanie Bandli</div>
<div class="cb"></div><div class="tri" style="left:2069.5px"></div><svg class="trash" width="23" height="29" viewBox="0 0 23 29"><rect x="0" y="3" width="23" height="3" rx="0.5" fill="#8a9399"/><rect x="8" y="0.5" width="7" height="3" rx="1" fill="#8a9399"/><path d="M2 7h19l-1.6 21.5H3.6z" fill="#8a9399"/><path d="M7 10v15M11.5 10v15M16 10v15" stroke="#fff" stroke-width="1.6"/></svg>
</div>
<div class="btn" style="left:2493px;border:2px solid #1ab3c0;background:#fff"></div>
<div class="a " style="left:2526.0px;top:1488.0px;font-size:20.3px;font-family:'DejaVu Sans Condensed','DejaVu Sans',sans-serif;transform:scaleX(1.1116);transform-origin:0 0;color:#14b0bd;-webkit-text-stroke:0.9px #14b0bd">Dismiss all</div>
<div class="btn" style="left:2732px;background:#03b3bf"></div>
<div class="a " style="left:2764.5px;top:1488.0px;font-size:20.3px;font-family:'DejaVu Sans Condensed','DejaVu Sans',sans-serif;transform:scaleX(1.1483);transform-origin:0 0;color:#fff;-webkit-text-stroke:0.9px #fff">Accept all</div>
<div class="card" style="top:1625px;height:200px"><div class="accent" style="top:27px;height:60px"></div></div>
<div class="a " style="left:567.5px;top:1673.6px;font-size:19.9px;font-family:'DejaVu Sans Condensed','DejaVu Sans',sans-serif;transform:scaleX(1.1827);transform-origin:0 0;color:#3b4b53;-webkit-text-stroke:1px #3b4b53">Lessons Learnt</div>

</body></html>
